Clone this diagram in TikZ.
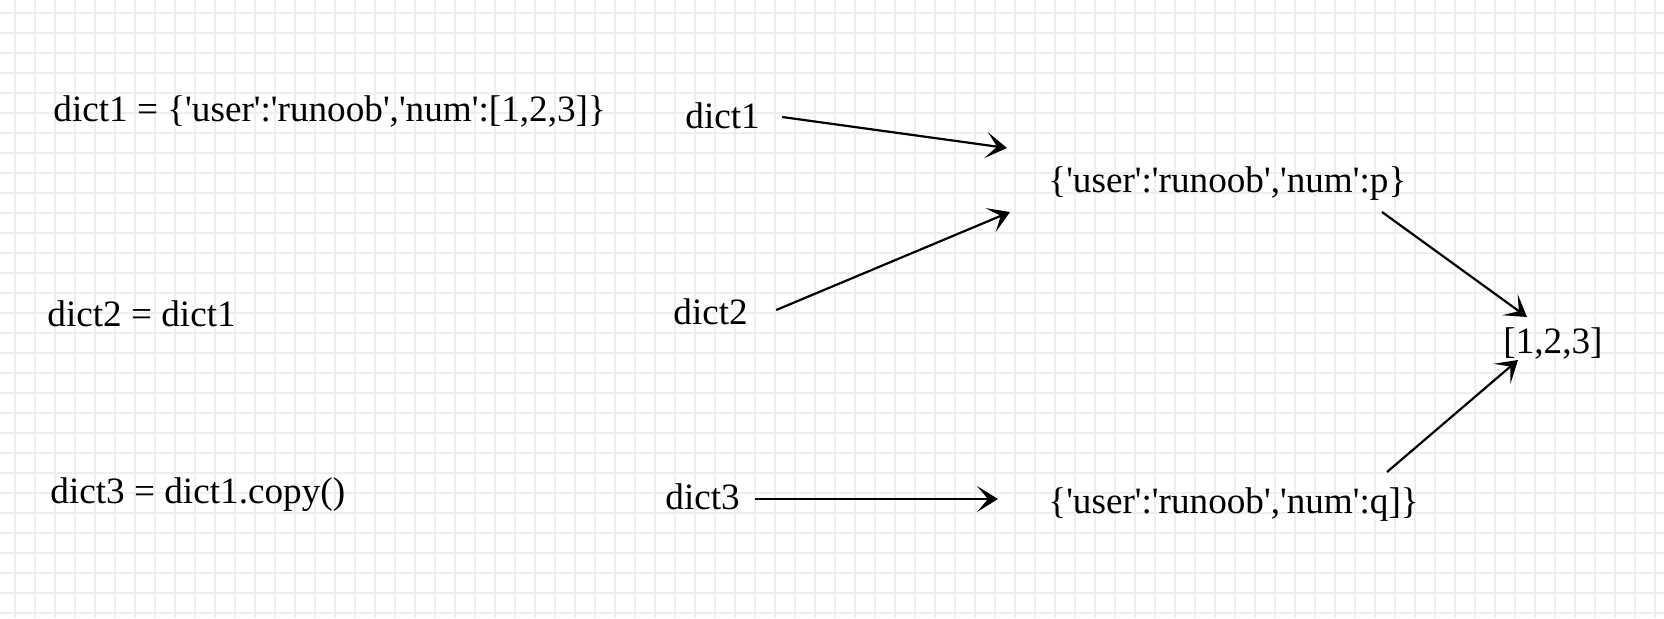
\documentclass[tikz,border=0pt]{standalone}
\usepackage{fontspec}
\setmainfont{Liberation Serif}[Ligatures=TeXOff]
\usetikzlibrary{arrows.meta}

\begin{document}
\begin{tikzpicture}[x=0.5pt,y=-0.5pt,
  txt/.style={inner sep=0pt,font=\fontsize{18.6}{21}\selectfont},
  ptr/.style={line width=1.1pt,-{Stealth[length=10.5pt,width=13pt,inset=5.5pt]}},
  gridline/.style={line width=1pt,color={rgb,255:red,238;green,238;blue,238}}]
\useasboundingbox (0,0) rectangle (1664,618);
\fill[white] (0,0) rectangle (1664,618);
\foreach \gx in {0,...,82} \draw[gridline] ({15+20*\gx},0) -- ({15+20*\gx},618);
\foreach \gy in {0,...,30} \draw[gridline] (0,{13+20*\gy}) -- (1664,{13+20*\gy});
\node[txt,right] (a1) at (53,111) {dict1 = \{'user':'runoob','num':[1,2,3]\}};
\node[txt,right] (a2) at (47,314) {dict2 = dict1};
\node[txt,right] (a3) at (50,495) {dict3 = dict1.copy()};
\node[txt,right] (m1) at (685,116) {dict1};
\node[txt,right] (m2) at (673,312) {dict2};
\node[txt,right] (m3) at (665,497) {dict3};
\node[txt,right] (p) at (1048,184) {\{'user':'runoob','num':p\}};
\node[txt,right] (q) at (1048,505) {\{'user':'runoob','num':q]\}};
\node[txt,right] (l) at (1503,343) {[1,2,3]};
\draw[ptr] ([shift={(22,1)}]m1.east) -- ([shift={(-41,-36)}]p.west);
\draw[ptr] ([shift={(28,-2)}]m2.east) -- ([shift={(-38,28)}]p.west);
\draw[ptr] ([shift={(15,2)}]m3.east) -- ([shift={(-50,-6)}]q.west);
\draw[ptr] ([shift={(334,28)}]p.west) -- ([shift={(24,-26)}]l.west);
\draw[ptr] ([shift={(339,-33)}]q.west) -- ([shift={(15,17)}]l.west);
\end{tikzpicture}
\end{document}
